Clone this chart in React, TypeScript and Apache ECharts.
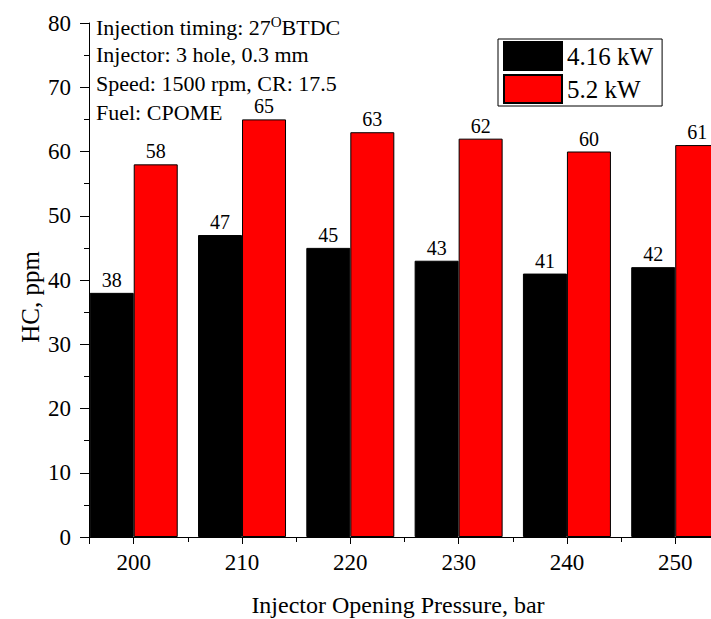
import React, { useEffect, useRef } from 'react';
import * as echarts from 'echarts';

// Injector opening pressure (bar) and measured HC emissions (ppm)
const pressures = [200, 210, 220, 230, 240, 250];
const hcLoad416 = [38, 47, 45, 43, 41, 42];
const hcLoad52 = [58, 65, 63, 62, 60, 61];
const loadNames = ['4.16 kW', '5.2 kW'];
const loadColors = ['#000000', '#ff0000'];

const yMin = 0;
const yMax = 80;
const yStep = 10;
const xMin = 195.87;
const xMax = 255;
const xStep = 10;

const notes = [
  '{t|Injection timing: 27}{sup|O}{t|BTDC}',
  '{t|Injector: 3 hole, 0.3 mm}',
  '{t|Speed: 1500 rpm, CR: 17.5}',
  '{t|Fuel: CPOME}',
];
const xTitle = 'Injector Opening Pressure, bar';
const yTitle = 'HC, ppm';

const FONT = '"Liberation Serif", "Times New Roman", serif';

// The plot runs past the right edge of the visible frame, so the chart
// canvas is wider than the frame that clips it.
const FRAME_W = 711;
const FRAME_H = 619;
const CANVAS_W = 760;

export default function App() {
  const ref = useRef<HTMLDivElement>(null);

  useEffect(() => {
    if (!ref.current) return;
    const chart = echarts.init(ref.current, null, { renderer: 'svg' });

    const gridLeft = 89;
    const gridTop = 23;
    const gridHeight = 514;
    const pxPerUnit = 10.83;
    const gridWidth = (xMax - xMin) * pxPerUnit;

    const barSeries = [hcLoad416, hcLoad52].map((vals, s) => ({
      name: loadNames[s],
      type: 'bar',
      data: pressures.map((p, i) => [p, vals[i]]),
      barWidth: 44,
      barGap: '0%',
      itemStyle: { color: loadColors[s], borderColor: '#000', borderWidth: 1 },
      label: {
        show: true,
        position: 'top',
        distance: 3,
        fontSize: 20,
        fontFamily: FONT,
        color: '#000',
        formatter: (p: any) => String(p.value[1]),
      },
    }));

    const noteTexts = notes.map((txt, i) => ({
      type: 'text',
      left: 96,
      top: 14 + 29 * i,
      style: {
        text: txt,
        rich: {
          t: { fontSize: 22, fontFamily: FONT, fill: '#000', lineHeight: 26 },
          sup: { fontSize: 15, fontFamily: FONT, fill: '#000', lineHeight: 26, padding: [0, 0, 12, 0] },
        },
      },
    }));

    chart.setOption({
      animation: false,
      textStyle: { fontFamily: FONT, color: '#000' },
      grid: { left: gridLeft, top: gridTop, width: gridWidth, height: gridHeight, containLabel: false },
      legend: {
        left: 498,
        top: 39,
        orient: 'vertical',
        icon: 'rect',
        itemWidth: 58,
        itemHeight: 28,
        itemGap: 3,
        padding: [2, 9, 2, 5],
        borderColor: '#000',
        borderWidth: 1,
        backgroundColor: '#fff',
        textStyle: { fontSize: 25, fontFamily: FONT, color: '#000' },
        data: loadNames,
      },
      xAxis: {
        type: 'value',
        min: xMin,
        max: xMax,
        minInterval: xStep,
        maxInterval: xStep,
        splitNumber: 6,
        axisLine: { show: true, lineStyle: { color: '#000', width: 1 } },
        axisTick: { show: true, length: 7, lineStyle: { color: '#000' } },
        minorTick: { show: true, splitNumber: 2, length: 5, lineStyle: { color: '#000' } },
        splitLine: { show: false },
        minorSplitLine: { show: false },
        axisLabel: {
          fontSize: 23,
          margin: 14,
          color: '#000',
          fontFamily: FONT,
          showMinLabel: false,
          formatter: (v: number) => (Math.abs(v % xStep) < 1e-6 ? String(v) : ''),
        },
      },
      yAxis: {
        type: 'value',
        min: yMin,
        max: yMax,
        interval: yStep,
        axisLine: { show: true, lineStyle: { color: '#000', width: 1 } },
        axisTick: { show: true, length: 9, lineStyle: { color: '#000' } },
        minorTick: { show: true, splitNumber: 2, length: 5, lineStyle: { color: '#000' } },
        splitLine: { show: false },
        minorSplitLine: { show: false },
        axisLabel: { fontSize: 23, margin: 18, color: '#000', fontFamily: FONT },
      },
      graphic: [
        ...noteTexts,
        {
          type: 'text',
          x: 398,
          y: 605,
          style: {
            text: xTitle,
            fontSize: 24,
            fontFamily: FONT,
            fill: '#000',
            align: 'center',
            verticalAlign: 'middle',
          },
        },
        {
          type: 'text',
          x: 30,
          y: 297,
          rotation: Math.PI / 2,
          style: {
            text: yTitle,
            fontSize: 25,
            fontFamily: FONT,
            fill: '#000',
            align: 'center',
            verticalAlign: 'middle',
          },
        },
      ],
      series: barSeries,
    });

    return () => chart.dispose();
  }, []);

  return (
    <div
      style={{
        position: 'fixed',
        left: 0,
        top: 0,
        width: FRAME_W,
        height: FRAME_H,
        overflow: 'hidden',
        background: '#fff',
      }}
    >
      <div ref={ref} style={{ width: CANVAS_W, height: FRAME_H }} />
    </div>
  );
}
